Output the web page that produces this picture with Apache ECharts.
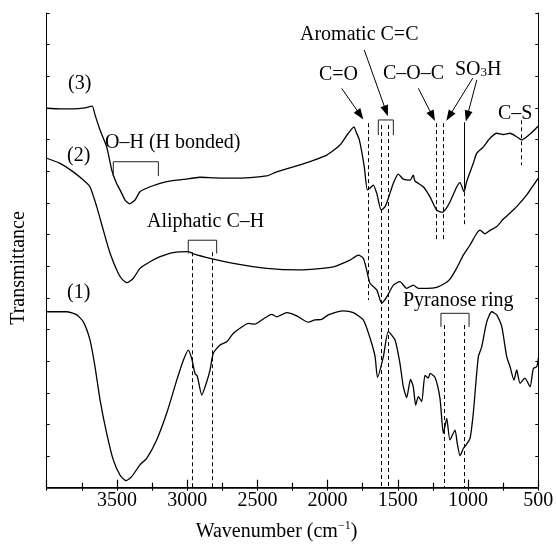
<!DOCTYPE html>
<html>
<head>
<meta charset="utf-8">
<script src="https://cdn.jsdelivr.net/npm/echarts@6/dist/echarts.min.js"></script>
<style>
  html, body { margin: 0; padding: 0; background: #fff; }
  #main { width: 557px; height: 544px; }
</style>
</head>
<body>
<div id="main"></div>
<script>
// spectra: [wavenumber, transmittance (arb. units)]
var curve1 = [
  [4000, 5.56], [3858, 5.56], [3786, 5.46], [3739, 5.24], [3692, 4.67], [3656, 3.82],
  [3620, 2.77], [3573, 1.72], [3526, 0.88], [3478, 0.40], [3435, 0.22], [3395, 0.35],
  [3336, 0.72], [3288, 0.93], [3217, 1.51], [3146, 2.35], [3074, 3.40], [3027, 4.03],
  [2992, 4.35], [2968, 4.09], [2944, 3.61], [2928, 3.53], [2896, 2.93], [2861, 3.34],
  [2837, 3.72], [2814, 4.25], [2766, 4.51], [2718, 4.61], [2671, 4.88], [2600, 5.11],
  [2565, 5.19], [2517, 5.17], [2469, 5.30], [2398, 5.48], [2362, 5.40], [2291, 5.53],
  [2220, 5.43], [2137, 5.23], [2090, 5.30], [2042, 5.32], [1995, 5.46], [1888, 5.59],
  [1817, 5.53], [1746, 5.30], [1698, 4.73], [1662, 4.14], [1645, 3.49], [1603, 4.14],
  [1568, 4.93], [1520, 4.67], [1485, 3.93], [1461, 3.19], [1437, 2.85], [1410, 3.42],
  [1390, 3.19], [1373, 2.61], [1354, 2.88], [1330, 2.72], [1307, 3.55], [1283, 3.46],
  [1271, 3.61], [1235, 3.48], [1200, 2.82], [1176, 1.72], [1152, 2.19], [1129, 1.51],
  [1093, 1.82], [1077, 1.40], [1057, 1.01], [1034, 1.24], [1010, 1.38], [986, 1.56],
  [963, 2.35], [927, 4.14], [903, 4.45], [867, 5.24], [832, 5.56], [796, 5.46],
  [760, 5.09], [725, 4.14], [701, 3.82], [673, 3.40], [654, 3.72], [630, 3.30],
  [595, 3.46], [559, 3.19], [535, 3.77], [511, 3.82], [500, 4.09]
];
var curve2 = [
  [4000, 10.41], [3905, 10.25], [3811, 9.98], [3739, 9.72], [3692, 9.51], [3644, 8.88],
  [3597, 8.14], [3549, 7.41], [3490, 6.77], [3457, 6.56], [3426, 6.48], [3383, 6.62],
  [3336, 6.93], [3264, 7.14], [3193, 7.30], [3099, 7.43], [2992, 7.46], [2944, 7.37],
  [2837, 7.25], [2671, 7.09], [2434, 6.93], [2197, 6.88], [1959, 6.98], [1841, 7.19],
  [1781, 7.35], [1746, 7.25], [1722, 6.88], [1698, 6.46], [1650, 6.25], [1615, 5.83],
  [1579, 6.03], [1532, 6.40], [1485, 6.51], [1437, 6.30], [1390, 6.40], [1354, 6.30],
  [1294, 6.30], [1223, 6.33], [1164, 6.46], [1129, 6.59], [1081, 6.94], [1034, 7.35],
  [986, 7.67], [938, 8.04], [915, 8.14], [879, 8.02], [844, 8.13], [796, 8.25],
  [749, 8.49], [701, 8.68], [654, 8.88], [582, 9.25], [544, 9.50], [500, 9.78]
];
var curve3 = [
  [4000, 11.99], [3905, 11.97], [3811, 11.97], [3727, 12.00], [3692, 12.04], [3675, 12.06],
  [3656, 11.78], [3620, 11.30], [3573, 10.77], [3537, 10.04], [3507, 9.66], [3478, 9.41],
  [3442, 9.09], [3410, 8.97], [3371, 9.09], [3336, 9.35], [3264, 9.51], [3146, 9.67],
  [3027, 9.74], [2909, 9.81], [2802, 9.79], [2671, 9.78], [2553, 9.80], [2434, 9.85],
  [2362, 9.98], [2197, 10.20], [2006, 10.51], [1912, 10.83], [1853, 11.20], [1812, 11.40],
  [1798, 11.25], [1774, 10.99], [1739, 10.14], [1717, 9.41], [1698, 9.47], [1675, 9.56],
  [1650, 9.30], [1618, 8.77], [1591, 8.88], [1568, 9.14], [1532, 9.62], [1497, 9.91],
  [1461, 9.75], [1413, 9.72], [1390, 9.88], [1378, 9.69], [1319, 9.51], [1271, 9.19],
  [1223, 8.77], [1182, 8.70], [1164, 8.77], [1129, 9.03], [1081, 9.50], [1057, 9.64],
  [1029, 9.35], [1010, 9.67], [963, 10.25], [938, 10.57], [891, 10.77], [844, 11.04],
  [796, 11.20], [749, 11.16], [701, 11.20], [654, 11.09], [618, 10.99], [582, 11.09],
  [535, 11.27], [500, 11.43]
];

// dashed marker lines: [wavenumber, from, to]
var dashLines = [
  [2963, 7.44, 0], [2818, 7.44, 0],
  [1710, 11.52, 5.93],
  [1615, 11.46, 0], [1568, 11.46, 0],
  [1230, 11.52, 7.82], [1180, 11.52, 7.82],
  [1027, 9.56, 8.30],
  [618, 11.61, 10.19],
  [1170, 5.14, 0], [1027, 5.14, 0]
];
// solid marker line (SO3H, upper part)
var solidLines = [[1027, 11.55, 9.56]];
// arrows: [fromW, fromT, toW, toT]
var arrows = [
  [1900, 12.62, 1768, 11.78],
  [1739, 13.83, 1584, 11.90],
  [1354, 12.62, 1253, 11.74],
  [967, 12.94, 1134, 11.74],
  [938, 12.88, 1006, 11.74]
];
// brackets: [leftW, rightW, top, legBottom]
var brackets = [
  [3526, 3205, 10.30, 9.85],
  [2992, 2790, 7.82, 7.40],
  [1639, 1532, 11.62, 11.14],
  [1193, 993, 5.51, 5.08]
];

var xTicks = [4000, 3500, 3000, 2500, 2000, 1500, 1000, 500];

var chart = echarts.init(document.getElementById('main'));
var font = "'Liberation Serif', 'Times New Roman', serif";

function txt(x, y, s) {
  return {
    type: 'text', silent: true,
    style: { text: s, x: x, y: y, fill: '#000', font: '20px ' + font, textAlign: 'left', textVerticalAlign: 'middle' }
  };
}

var curveStyle = { color: '#000', width: 1.3 };

var series = [curve1, curve2, curve3].map(function (d) {
  return {
    type: 'line', data: d, showSymbol: false, smooth: 0.2, silent: true,
    lineStyle: curveStyle, itemStyle: { color: '#000' }, z: 3
  };
});

brackets.forEach(function (b) {
  series.push({
    type: 'line', silent: true, showSymbol: false,
    data: [[b[0], b[3]], [b[0], b[2]], [b[1], b[2]], [b[1], b[3]]],
    lineStyle: { color: '#222', width: 1 }, itemStyle: { color: '#222' }
  });
});

series.push({
  type: 'line', data: [], silent: true,
  markLine: {
    silent: true, symbol: 'none', label: { show: false },
    lineStyle: { color: '#000', width: 1, type: [4, 3] },
    data: dashLines.map(function (l) { return [{ coord: [l[0], l[1]] }, { coord: [l[0], l[2]] }]; })
  }
});
series.push({
  type: 'line', data: [], silent: true,
  markLine: {
    silent: true, symbol: 'none', label: { show: false },
    lineStyle: { color: '#000', width: 1, type: 'solid' },
    data: solidLines.map(function (l) { return [{ coord: [l[0], l[1]] }, { coord: [l[0], l[2]] }]; })
  }
});
series.push({
  type: 'line', data: [], silent: true,
  markLine: {
    silent: true, symbol: ['none', 'triangle'], symbolSize: [8, 11], label: { show: false },
    lineStyle: { color: '#000', width: 1, type: 'solid' },
    itemStyle: { color: '#000' },
    data: arrows.map(function (a) { return [{ coord: [a[0], a[1]] }, { coord: [a[2], a[3]] }]; })
  }
});

var frameTick = { show: true, inside: true, length: 3, lineStyle: { color: '#000', width: 1 } };

var option = {
  animation: false,
  backgroundColor: '#fff',
  grid: { left: 46.7, right: 18.7, top: 13, bottom: 56.3 },
  xAxis: [{
    type: 'value', min: 500, max: 4000, interval: 500, inverse: true,
    axisLine: { show: true, lineStyle: { color: '#000', width: 1.5 } },
    axisTick: { show: true, inside: true, length: 8, lineStyle: { color: '#000', width: 1.2 } },
    minorTick: { show: true, splitNumber: 2, length: 5, lineStyle: { color: '#000', width: 1.2 } },
    splitLine: { show: false },
    axisLabel: {
      color: '#000', fontSize: 20, fontFamily: font, margin: 3,
      formatter: function (v) { return xTicks.indexOf(v) > 0 ? String(v) : ''; }
    }
  }, {
    type: 'value', position: 'top', min: 500, max: 4000, interval: 250, inverse: true,
    axisLine: { show: true, lineStyle: { color: '#000', width: 1 } },
    axisTick: frameTick,
    splitLine: { show: false }, axisLabel: { show: false }
  }],
  yAxis: [{
    type: 'value', min: 0, max: 15, interval: 1,
    axisLine: { show: true, lineStyle: { color: '#000', width: 1 } },
    axisTick: frameTick,
    splitLine: { show: false }, axisLabel: { show: false }
  }, {
    type: 'value', position: 'right', min: 0, max: 15, interval: 1,
    axisLine: { show: true, lineStyle: { color: '#000', width: 1 } },
    axisTick: frameTick,
    splitLine: { show: false }, axisLabel: { show: false }
  }],
  series: series,
  graphic: [
    {
      type: 'text', silent: true, x: 19, y: 268, rotation: Math.PI / 2,
      style: { text: 'Transmittance', x: 0, y: 0, fill: '#000', font: '20px ' + font, textAlign: 'center', textVerticalAlign: 'middle' }
    },
    {
      type: 'text', silent: true,
      style: {
        text: '{a|Wavenumber (cm}{s|\u22121}{a|)}', x: 276.5, y: 531,
        textAlign: 'center', textVerticalAlign: 'middle', fill: '#000',
        rich: {
          a: { fontSize: 20, fontFamily: font, color: '#000', lineHeight: 22, verticalAlign: 'bottom' },
          s: { fontSize: 12, fontFamily: font, color: '#000', lineHeight: 22, verticalAlign: 'top' }
        }
      }
    },
    txt(68, 84, '(3)'),
    txt(67, 156, '(2)'),
    txt(67, 293, '(1)'),
    txt(105, 142.5, 'O\u2013H (H bonded)'),
    txt(147, 221.5, 'Aliphatic C\u2013H'),
    txt(300, 34.5, 'Aromatic C=C'),
    txt(319, 74.5, 'C=O'),
    txt(383, 74, 'C\u2013O\u2013C'),
    {
      type: 'text', silent: true,
      style: {
        text: '{a|SO}{b|3}{a|H}', x: 455, y: 68.5,
        textAlign: 'left', textVerticalAlign: 'middle', fill: '#000',
        rich: {
          a: { fontSize: 20, fontFamily: font, color: '#000', lineHeight: 22, verticalAlign: 'bottom' },
          b: { fontSize: 13, fontFamily: font, color: '#000', lineHeight: 22, verticalAlign: 'bottom' }
        }
      }
    },
    txt(498, 114, 'C\u2013S'),
    txt(403, 300.7, 'Pyranose ring')
  ]
};

chart.setOption(option);
</script>
</body>
</html>
